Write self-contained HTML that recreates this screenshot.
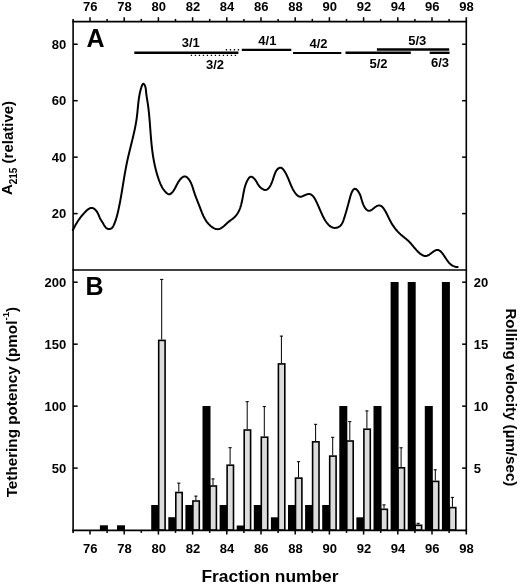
<!DOCTYPE html>
<html><head><meta charset="utf-8"><title>Fraction chart</title>
<style>
html,body{margin:0;padding:0;background:#fff;}
body{width:520px;height:584px;overflow:hidden;}
svg{display:block;}
text{font-family:"Liberation Sans", Arial, sans-serif;font-weight:bold;fill:#000;}
</style></head>
<body>
<svg width="520" height="584" viewBox="0 0 520 584">
<rect width="520" height="584" fill="#fff"/>
<path d="M72.87,230.05 L73.31,229.18 L73.75,228.33 L74.19,227.49 L74.63,226.67 L75.07,225.86 L75.51,225.07 L75.96,224.28 L76.41,223.51 L76.87,222.75 L77.34,222.00 L77.81,221.25 L78.30,220.52 L78.79,219.79 L79.30,219.06 L79.81,218.34 L80.34,217.63 L80.89,216.92 L81.45,216.21 L82.02,215.50 L82.62,214.80 L83.23,214.09 L83.86,213.38 L84.52,212.67 L85.19,211.96 L85.89,211.25 L86.60,210.56 L87.33,209.91 L88.08,209.32 L88.84,208.81 L89.61,208.39 L90.39,208.09 L91.17,207.92 L91.95,207.90 L92.74,208.06 L93.52,208.38 L94.27,208.84 L94.99,209.41 L95.67,210.07 L96.29,210.80 L96.84,211.56 L97.33,212.36 L97.78,213.18 L98.18,214.02 L98.56,214.87 L98.93,215.72 L99.28,216.56 L99.64,217.40 L100.01,218.21 L100.41,219.00 L100.83,219.76 L101.28,220.50 L101.75,221.24 L102.23,222.00 L102.72,222.78 L103.20,223.61 L103.68,224.47 L104.18,225.32 L104.70,226.15 L105.26,226.93 L105.87,227.63 L106.52,228.22 L107.25,228.67 L108.05,228.97 L108.90,229.09 L109.76,229.05 L110.60,228.84 L111.36,228.45 L112.02,227.91 L112.59,227.22 L113.09,226.43 L113.52,225.58 L113.93,224.70 L114.31,223.82 L114.67,222.94 L115.01,222.06 L115.33,221.18 L115.64,220.30 L115.93,219.42 L116.21,218.54 L116.47,217.67 L116.73,216.79 L116.97,215.91 L117.20,215.03 L117.42,214.15 L117.64,213.27 L117.85,212.39 L118.05,211.51 L118.25,210.63 L118.45,209.75 L118.64,208.86 L118.83,207.98 L119.02,207.09 L119.20,206.20 L119.38,205.32 L119.56,204.43 L119.73,203.54 L119.91,202.65 L120.08,201.75 L120.24,200.86 L120.41,199.97 L120.57,199.08 L120.73,198.18 L120.89,197.29 L121.05,196.39 L121.20,195.49 L121.36,194.60 L121.51,193.70 L121.66,192.80 L121.81,191.90 L121.96,191.01 L122.11,190.11 L122.26,189.21 L122.41,188.31 L122.56,187.41 L122.70,186.51 L122.85,185.61 L123.00,184.71 L123.14,183.81 L123.29,182.91 L123.44,182.01 L123.58,181.11 L123.73,180.21 L123.88,179.31 L124.03,178.41 L124.18,177.51 L124.33,176.61 L124.48,175.71 L124.64,174.81 L124.79,173.91 L124.95,173.01 L125.11,172.11 L125.27,171.22 L125.43,170.32 L125.59,169.42 L125.76,168.52 L125.93,167.63 L126.10,166.73 L126.27,165.84 L126.45,164.94 L126.63,164.05 L126.81,163.16 L126.99,162.27 L127.18,161.38 L127.37,160.48 L127.57,159.60 L127.77,158.71 L127.97,157.82 L128.17,156.93 L128.38,156.04 L128.58,155.16 L128.79,154.27 L129.00,153.39 L129.22,152.50 L129.43,151.62 L129.65,150.73 L129.87,149.85 L130.08,148.97 L130.30,148.08 L130.52,147.20 L130.74,146.32 L130.96,145.43 L131.18,144.55 L131.40,143.67 L131.62,142.78 L131.83,141.90 L132.05,141.02 L132.27,140.13 L132.48,139.25 L132.70,138.37 L132.91,137.48 L133.12,136.60 L133.32,135.71 L133.53,134.83 L133.73,133.94 L133.93,133.05 L134.13,132.17 L134.32,131.28 L134.52,130.39 L134.70,129.50 L134.89,128.61 L135.07,127.72 L135.24,126.83 L135.42,125.93 L135.58,125.04 L135.75,124.14 L135.91,123.25 L136.06,122.35 L136.21,121.45 L136.35,120.55 L136.49,119.65 L136.62,118.75 L136.74,117.85 L136.86,116.94 L136.98,116.04 L137.08,115.13 L137.19,114.22 L137.29,113.31 L137.38,112.40 L137.47,111.49 L137.56,110.58 L137.65,109.67 L137.74,108.76 L137.83,107.85 L137.92,106.93 L138.01,106.02 L138.10,105.11 L138.19,104.21 L138.29,103.30 L138.39,102.39 L138.50,101.49 L138.61,100.58 L138.73,99.68 L138.85,98.78 L138.98,97.88 L139.12,96.98 L139.27,96.09 L139.43,95.20 L139.60,94.31 L139.77,93.42 L139.97,92.53 L140.17,91.63 L140.40,90.73 L140.64,89.82 L140.89,88.90 L141.17,87.97 L141.47,87.02 L141.80,86.06 L142.15,85.15 L142.53,84.39 L142.95,83.89 L143.41,83.75 L143.90,84.01 L144.39,84.60 L144.85,85.39 L145.21,86.28 L145.49,87.19 L145.68,88.13 L145.82,89.09 L145.92,90.04 L146.00,91.00 L146.08,91.96 L146.18,92.90 L146.28,93.83 L146.40,94.75 L146.53,95.66 L146.66,96.57 L146.80,97.47 L146.95,98.37 L147.09,99.26 L147.24,100.15 L147.39,101.04 L147.53,101.93 L147.67,102.82 L147.80,103.71 L147.93,104.61 L148.05,105.50 L148.18,106.40 L148.29,107.30 L148.40,108.20 L148.51,109.10 L148.62,110.00 L148.72,110.90 L148.82,111.80 L148.91,112.71 L149.01,113.61 L149.10,114.52 L149.18,115.42 L149.27,116.33 L149.35,117.24 L149.43,118.15 L149.51,119.06 L149.58,119.97 L149.66,120.88 L149.73,121.79 L149.81,122.70 L149.88,123.61 L149.95,124.53 L150.02,125.44 L150.09,126.35 L150.15,127.26 L150.22,128.17 L150.29,129.09 L150.36,130.00 L150.43,130.91 L150.49,131.83 L150.56,132.74 L150.63,133.65 L150.70,134.56 L150.78,135.47 L150.85,136.38 L150.92,137.29 L151.00,138.21 L151.08,139.12 L151.16,140.02 L151.24,140.93 L151.32,141.84 L151.41,142.75 L151.50,143.66 L151.59,144.56 L151.68,145.47 L151.78,146.37 L151.88,147.27 L151.99,148.18 L152.09,149.08 L152.20,149.98 L152.32,150.88 L152.44,151.78 L152.56,152.68 L152.68,153.57 L152.81,154.47 L152.95,155.37 L153.09,156.26 L153.23,157.16 L153.38,158.05 L153.53,158.94 L153.69,159.83 L153.85,160.73 L154.02,161.62 L154.19,162.51 L154.37,163.39 L154.55,164.28 L154.74,165.17 L154.94,166.06 L155.14,166.94 L155.35,167.83 L155.56,168.71 L155.78,169.59 L156.01,170.48 L156.24,171.36 L156.48,172.24 L156.73,173.12 L156.98,174.00 L157.24,174.88 L157.51,175.76 L157.79,176.63 L158.07,177.51 L158.36,178.39 L158.66,179.26 L158.96,180.14 L159.28,181.01 L159.61,181.87 L159.95,182.74 L160.30,183.59 L160.68,184.43 L161.06,185.27 L161.47,186.09 L161.90,186.90 L162.35,187.69 L162.83,188.47 L163.33,189.23 L163.86,189.97 L164.42,190.68 L165.01,191.38 L165.63,192.04 L166.28,192.69 L166.97,193.29 L167.69,193.81 L168.43,194.17 L169.19,194.30 L169.96,194.15 L170.73,193.75 L171.49,193.14 L172.21,192.40 L172.89,191.58 L173.52,190.73 L174.07,189.90 L174.56,189.10 L175.01,188.32 L175.41,187.56 L175.80,186.80 L176.18,186.04 L176.56,185.27 L176.95,184.49 L177.38,183.69 L177.84,182.87 L178.35,182.02 L178.91,181.17 L179.51,180.32 L180.14,179.51 L180.79,178.76 L181.47,178.07 L182.16,177.48 L182.87,177.00 L183.58,176.65 L184.28,176.46 L184.99,176.44 L185.68,176.59 L186.35,176.90 L187.01,177.35 L187.65,177.92 L188.27,178.59 L188.86,179.35 L189.43,180.18 L189.96,181.06 L190.46,181.97 L190.92,182.90 L191.34,183.82 L191.72,184.73 L192.07,185.62 L192.38,186.49 L192.66,187.34 L192.93,188.19 L193.19,189.02 L193.43,189.85 L193.68,190.68 L193.94,191.51 L194.21,192.34 L194.49,193.18 L194.78,194.02 L195.08,194.86 L195.38,195.70 L195.69,196.55 L196.01,197.39 L196.34,198.24 L196.67,199.10 L197.00,199.95 L197.34,200.80 L197.67,201.66 L198.01,202.52 L198.35,203.38 L198.69,204.24 L199.03,205.10 L199.37,205.96 L199.70,206.82 L200.03,207.68 L200.36,208.55 L200.69,209.41 L201.02,210.27 L201.35,211.12 L201.69,211.97 L202.03,212.82 L202.39,213.66 L202.75,214.50 L203.12,215.32 L203.50,216.14 L203.90,216.95 L204.32,217.76 L204.75,218.55 L205.20,219.32 L205.67,220.09 L206.16,220.85 L206.68,221.59 L207.22,222.31 L207.78,223.02 L208.38,223.71 L209.01,224.39 L209.66,225.05 L210.35,225.68 L211.07,226.30 L211.83,226.88 L212.60,227.43 L213.40,227.91 L214.22,228.34 L215.05,228.68 L215.89,228.95 L216.74,229.12 L217.59,229.18 L218.44,229.12 L219.29,228.94 L220.12,228.64 L220.95,228.23 L221.76,227.74 L222.55,227.18 L223.32,226.57 L224.07,225.94 L224.79,225.29 L225.48,224.65 L226.15,224.03 L226.80,223.42 L227.45,222.83 L228.11,222.26 L228.79,221.70 L229.50,221.14 L230.22,220.59 L230.96,220.05 L231.69,219.50 L232.42,218.94 L233.13,218.37 L233.83,217.78 L234.50,217.17 L235.13,216.54 L235.73,215.88 L236.29,215.20 L236.82,214.49 L237.32,213.76 L237.79,213.02 L238.23,212.25 L238.65,211.46 L239.03,210.66 L239.40,209.84 L239.74,209.01 L240.06,208.16 L240.36,207.30 L240.64,206.43 L240.91,205.55 L241.16,204.66 L241.39,203.76 L241.61,202.86 L241.82,201.95 L242.02,201.03 L242.21,200.11 L242.39,199.19 L242.57,198.27 L242.74,197.35 L242.91,196.43 L243.07,195.51 L243.24,194.60 L243.40,193.69 L243.57,192.79 L243.75,191.89 L243.92,191.00 L244.11,190.12 L244.30,189.25 L244.51,188.38 L244.72,187.52 L244.96,186.67 L245.21,185.81 L245.49,184.96 L245.79,184.11 L246.11,183.26 L246.47,182.42 L246.85,181.57 L247.27,180.71 L247.72,179.86 L248.21,179.03 L248.74,178.26 L249.30,177.60 L249.91,177.10 L250.55,176.79 L251.24,176.72 L251.97,176.90 L252.71,177.32 L253.47,177.91 L254.20,178.63 L254.91,179.45 L255.58,180.31 L256.17,181.18 L256.69,182.01 L257.12,182.76 L257.50,183.46 L257.87,184.14 L258.26,184.80 L258.74,185.49 L259.32,186.21 L260.01,186.96 L260.78,187.69 L261.61,188.38 L262.48,188.98 L263.36,189.47 L264.22,189.80 L265.05,189.94 L265.83,189.90 L266.57,189.69 L267.27,189.33 L267.92,188.85 L268.54,188.25 L269.11,187.57 L269.64,186.83 L270.14,186.03 L270.59,185.20 L271.01,184.37 L271.40,183.54 L271.75,182.71 L272.08,181.87 L272.39,181.04 L272.68,180.20 L272.96,179.36 L273.24,178.50 L273.52,177.64 L273.80,176.77 L274.09,175.88 L274.40,174.98 L274.73,174.06 L275.08,173.15 L275.47,172.25 L275.90,171.38 L276.37,170.56 L276.91,169.81 L277.50,169.13 L278.16,168.56 L278.89,168.09 L279.68,167.77 L280.47,167.66 L281.22,167.80 L281.92,168.15 L282.58,168.68 L283.19,169.34 L283.77,170.10 L284.32,170.91 L284.83,171.74 L285.32,172.56 L285.78,173.39 L286.22,174.22 L286.64,175.05 L287.05,175.88 L287.43,176.71 L287.80,177.54 L288.17,178.37 L288.52,179.21 L288.86,180.04 L289.20,180.87 L289.54,181.70 L289.87,182.53 L290.21,183.36 L290.55,184.19 L290.90,185.02 L291.25,185.84 L291.62,186.67 L292.00,187.49 L292.40,188.30 L292.81,189.11 L293.25,189.92 L293.72,190.71 L294.21,191.50 L294.73,192.28 L295.29,193.04 L295.89,193.79 L296.53,194.52 L297.20,195.20 L297.90,195.79 L298.64,196.27 L299.40,196.61 L300.18,196.77 L300.99,196.73 L301.82,196.50 L302.67,196.16 L303.54,195.75 L304.45,195.34 L305.36,194.94 L306.29,194.59 L307.20,194.30 L308.10,194.11 L308.96,194.04 L309.78,194.10 L310.55,194.32 L311.28,194.66 L311.96,195.13 L312.60,195.69 L313.20,196.35 L313.77,197.08 L314.31,197.87 L314.81,198.71 L315.29,199.57 L315.75,200.45 L316.19,201.34 L316.61,202.20 L317.01,203.06 L317.40,203.90 L317.78,204.73 L318.15,205.55 L318.51,206.36 L318.86,207.17 L319.21,207.98 L319.55,208.78 L319.90,209.59 L320.25,210.40 L320.59,211.21 L320.95,212.03 L321.31,212.86 L321.67,213.68 L322.05,214.51 L322.44,215.34 L322.83,216.16 L323.24,216.98 L323.67,217.80 L324.11,218.61 L324.57,219.41 L325.04,220.20 L325.54,220.98 L326.06,221.75 L326.60,222.50 L327.17,223.23 L327.77,223.95 L328.39,224.64 L329.04,225.30 L329.72,225.90 L330.45,226.45 L331.21,226.93 L332.01,227.32 L332.85,227.61 L333.74,227.80 L334.67,227.88 L335.62,227.85 L336.56,227.71 L337.47,227.48 L338.33,227.15 L339.12,226.73 L339.83,226.23 L340.47,225.65 L341.05,225.00 L341.56,224.30 L342.03,223.54 L342.45,222.74 L342.83,221.91 L343.18,221.04 L343.50,220.16 L343.81,219.27 L344.10,218.37 L344.39,217.48 L344.68,216.58 L344.96,215.70 L345.23,214.81 L345.50,213.92 L345.76,213.04 L346.02,212.16 L346.28,211.29 L346.53,210.41 L346.78,209.54 L347.03,208.67 L347.27,207.80 L347.51,206.93 L347.75,206.06 L347.98,205.20 L348.22,204.33 L348.45,203.47 L348.68,202.60 L348.91,201.74 L349.14,200.88 L349.37,200.02 L349.59,199.16 L349.82,198.30 L350.05,197.44 L350.29,196.57 L350.55,195.69 L350.83,194.80 L351.16,193.89 L351.53,192.95 L351.96,191.99 L352.44,191.03 L352.98,190.15 L353.56,189.43 L354.18,188.97 L354.83,188.80 L355.49,188.91 L356.16,189.25 L356.82,189.78 L357.47,190.46 L358.08,191.24 L358.64,192.09 L359.15,192.95 L359.60,193.81 L359.98,194.64 L360.32,195.46 L360.61,196.26 L360.87,197.06 L361.11,197.86 L361.34,198.67 L361.57,199.49 L361.81,200.32 L362.06,201.17 L362.34,202.05 L362.65,202.96 L363.01,203.90 L363.42,204.85 L363.87,205.80 L364.35,206.72 L364.88,207.60 L365.44,208.42 L366.03,209.15 L366.66,209.77 L367.32,210.27 L368.00,210.63 L368.71,210.82 L369.44,210.82 L370.19,210.63 L370.95,210.27 L371.74,209.79 L372.53,209.21 L373.32,208.58 L374.12,207.93 L374.92,207.30 L375.72,206.74 L376.50,206.26 L377.28,205.89 L378.05,205.63 L378.80,205.50 L379.54,205.49 L380.26,205.63 L380.96,205.91 L381.65,206.35 L382.31,206.94 L382.95,207.64 L383.56,208.43 L384.14,209.28 L384.70,210.15 L385.22,211.01 L385.71,211.86 L386.18,212.71 L386.62,213.54 L387.05,214.38 L387.46,215.20 L387.85,216.02 L388.25,216.83 L388.63,217.63 L389.02,218.43 L389.40,219.23 L389.79,220.02 L390.20,220.80 L390.61,221.58 L391.04,222.36 L391.48,223.13 L391.94,223.90 L392.42,224.66 L392.91,225.41 L393.42,226.16 L393.94,226.90 L394.47,227.63 L395.02,228.36 L395.59,229.07 L396.16,229.78 L396.76,230.47 L397.36,231.16 L397.98,231.83 L398.62,232.49 L399.27,233.14 L399.93,233.77 L400.60,234.39 L401.29,235.00 L401.99,235.60 L402.70,236.18 L403.41,236.76 L404.12,237.34 L404.83,237.91 L405.54,238.49 L406.24,239.07 L406.93,239.65 L407.61,240.25 L408.28,240.86 L408.92,241.48 L409.55,242.12 L410.16,242.77 L410.75,243.44 L411.34,244.11 L411.93,244.79 L412.50,245.48 L413.08,246.17 L413.66,246.86 L414.24,247.56 L414.83,248.26 L415.43,248.95 L416.04,249.64 L416.66,250.33 L417.31,251.01 L417.97,251.68 L418.66,252.34 L419.37,252.99 L420.11,253.61 L420.86,254.19 L421.64,254.72 L422.43,255.18 L423.23,255.55 L424.05,255.82 L424.87,255.98 L425.70,256.01 L426.53,255.90 L427.36,255.64 L428.18,255.27 L429.01,254.80 L429.83,254.26 L430.65,253.66 L431.47,253.05 L432.28,252.42 L433.08,251.82 L433.87,251.26 L434.66,250.77 L435.43,250.36 L436.19,250.06 L436.95,249.90 L437.68,249.90 L438.41,250.06 L439.12,250.36 L439.81,250.79 L440.49,251.33 L441.14,251.95 L441.78,252.66 L442.40,253.41 L443.00,254.21 L443.58,255.02 L444.14,255.83 L444.68,256.64 L445.20,257.44 L445.72,258.23 L446.23,259.01 L446.74,259.77 L447.25,260.51 L447.78,261.23 L448.32,261.93 L448.88,262.59 L449.46,263.22 L450.07,263.82 L450.72,264.38 L451.40,264.89 L452.12,265.37 L452.89,265.79 L453.71,266.17 L454.59,266.49 L455.53,266.75 L456.53,266.96 L457.61,267.10" fill="none" stroke="#000" stroke-width="2" stroke-linejoin="round" stroke-linecap="round"/>
<line x1="134.3" y1="52.8" x2="238.4" y2="52.8" stroke="#000" stroke-width="2.5"/>
<line x1="190.8" y1="55.4" x2="236.3" y2="55.4" stroke="#000" stroke-width="1.4" stroke-dasharray="1.3,2.7"/>
<line x1="225.8" y1="49.8" x2="239.2" y2="49.8" stroke="#000" stroke-width="1.4" stroke-dasharray="1.3,2.7"/>
<line x1="241.8" y1="49.9" x2="291.3" y2="49.9" stroke="#000" stroke-width="2.2"/>
<line x1="293.0" y1="53.0" x2="341.3" y2="53.0" stroke="#000" stroke-width="2.2"/>
<line x1="345.5" y1="52.8" x2="410.8" y2="52.8" stroke="#000" stroke-width="2.4"/>
<line x1="376.9" y1="49.5" x2="449.2" y2="49.5" stroke="#000" stroke-width="2.4"/>
<line x1="429.7" y1="52.8" x2="449.6" y2="52.8" stroke="#000" stroke-width="2.4"/>
<text x="190.8" y="46.8" font-size="13" text-anchor="middle">3/1</text>
<text x="215.0" y="68.5" font-size="13" text-anchor="middle">3/2</text>
<text x="267.4" y="44.8" font-size="13" text-anchor="middle">4/1</text>
<text x="318.5" y="47.8" font-size="13" text-anchor="middle">4/2</text>
<text x="378.5" y="67.8" font-size="13" text-anchor="middle">5/2</text>
<text x="417.3" y="45.3" font-size="13" text-anchor="middle">5/3</text>
<text x="440.0" y="67.3" font-size="13" text-anchor="middle">6/3</text>
<rect x="99.90" y="525.3" width="8.00" height="4.8" fill="#000"/>
<rect x="117.00" y="525.3" width="8.00" height="4.8" fill="#000"/>
<rect x="151.20" y="505.0" width="8.00" height="25.1" fill="#000"/>
<rect x="168.30" y="517.2" width="8.00" height="12.9" fill="#000"/>
<rect x="185.40" y="505.0" width="8.00" height="25.1" fill="#000"/>
<rect x="202.50" y="406.0" width="8.00" height="124.1" fill="#000"/>
<rect x="219.60" y="505.0" width="8.00" height="25.1" fill="#000"/>
<rect x="236.70" y="525.5" width="8.00" height="4.6" fill="#000"/>
<rect x="253.80" y="505.0" width="8.00" height="25.1" fill="#000"/>
<rect x="270.90" y="517.3" width="8.00" height="12.8" fill="#000"/>
<rect x="288.00" y="505.0" width="8.00" height="25.1" fill="#000"/>
<rect x="305.10" y="505.0" width="8.00" height="25.1" fill="#000"/>
<rect x="322.20" y="505.0" width="8.00" height="25.1" fill="#000"/>
<rect x="339.30" y="406.0" width="8.00" height="124.1" fill="#000"/>
<rect x="356.40" y="517.3" width="8.00" height="12.8" fill="#000"/>
<rect x="373.50" y="406.0" width="8.00" height="124.1" fill="#000"/>
<rect x="390.60" y="282.0" width="8.00" height="248.1" fill="#000"/>
<rect x="407.70" y="282.0" width="8.00" height="248.1" fill="#000"/>
<rect x="424.80" y="406.0" width="8.00" height="124.1" fill="#000"/>
<rect x="441.90" y="282.0" width="8.00" height="248.1" fill="#000"/>
<line x1="161.7" y1="339.6" x2="161.7" y2="279.2" stroke="#000" stroke-width="1"/>
<line x1="160.1" y1="279.4" x2="163.3" y2="279.4" stroke="#000" stroke-width="1"/>
<rect x="158.7" y="340.4" width="6.4" height="189.7" fill="#dcdcdc" stroke="#000" stroke-width="1.6"/>
<line x1="178.8" y1="491.7" x2="178.8" y2="482.9" stroke="#000" stroke-width="1"/>
<line x1="177.2" y1="483.1" x2="180.4" y2="483.1" stroke="#000" stroke-width="1"/>
<rect x="175.8" y="492.5" width="6.4" height="37.6" fill="#dcdcdc" stroke="#000" stroke-width="1.6"/>
<line x1="195.9" y1="500.2" x2="195.9" y2="495.9" stroke="#000" stroke-width="1"/>
<line x1="194.3" y1="496.1" x2="197.5" y2="496.1" stroke="#000" stroke-width="1"/>
<rect x="192.9" y="501.0" width="6.4" height="29.1" fill="#dcdcdc" stroke="#000" stroke-width="1.6"/>
<line x1="213.0" y1="485.2" x2="213.0" y2="478.7" stroke="#000" stroke-width="1"/>
<line x1="211.4" y1="478.9" x2="214.6" y2="478.9" stroke="#000" stroke-width="1"/>
<rect x="210.0" y="486.0" width="6.4" height="44.1" fill="#dcdcdc" stroke="#000" stroke-width="1.6"/>
<line x1="230.1" y1="464.4" x2="230.1" y2="447.5" stroke="#000" stroke-width="1"/>
<line x1="228.5" y1="447.7" x2="231.7" y2="447.7" stroke="#000" stroke-width="1"/>
<rect x="227.1" y="465.2" width="6.4" height="64.9" fill="#dcdcdc" stroke="#000" stroke-width="1.6"/>
<line x1="247.2" y1="429.2" x2="247.2" y2="401.5" stroke="#000" stroke-width="1"/>
<line x1="245.6" y1="401.7" x2="248.8" y2="401.7" stroke="#000" stroke-width="1"/>
<rect x="244.2" y="430.0" width="6.4" height="100.1" fill="#dcdcdc" stroke="#000" stroke-width="1.6"/>
<line x1="264.3" y1="436.4" x2="264.3" y2="406.4" stroke="#000" stroke-width="1"/>
<line x1="262.7" y1="406.6" x2="265.9" y2="406.6" stroke="#000" stroke-width="1"/>
<rect x="261.3" y="437.2" width="6.4" height="92.9" fill="#dcdcdc" stroke="#000" stroke-width="1.6"/>
<line x1="281.4" y1="363.1" x2="281.4" y2="335.9" stroke="#000" stroke-width="1"/>
<line x1="279.8" y1="336.1" x2="283.0" y2="336.1" stroke="#000" stroke-width="1"/>
<rect x="278.4" y="363.9" width="6.4" height="166.2" fill="#dcdcdc" stroke="#000" stroke-width="1.6"/>
<line x1="298.5" y1="477.3" x2="298.5" y2="461.5" stroke="#000" stroke-width="1"/>
<line x1="296.9" y1="461.7" x2="300.1" y2="461.7" stroke="#000" stroke-width="1"/>
<rect x="295.5" y="478.1" width="6.4" height="52.0" fill="#dcdcdc" stroke="#000" stroke-width="1.6"/>
<line x1="315.6" y1="441.0" x2="315.6" y2="424.1" stroke="#000" stroke-width="1"/>
<line x1="314.0" y1="424.3" x2="317.2" y2="424.3" stroke="#000" stroke-width="1"/>
<rect x="312.6" y="441.8" width="6.4" height="88.3" fill="#dcdcdc" stroke="#000" stroke-width="1.6"/>
<line x1="332.7" y1="455.3" x2="332.7" y2="437.1" stroke="#000" stroke-width="1"/>
<line x1="331.1" y1="437.3" x2="334.3" y2="437.3" stroke="#000" stroke-width="1"/>
<rect x="329.7" y="456.1" width="6.4" height="74.0" fill="#dcdcdc" stroke="#000" stroke-width="1.6"/>
<line x1="349.8" y1="440.2" x2="349.8" y2="421.4" stroke="#000" stroke-width="1"/>
<line x1="348.2" y1="421.6" x2="351.4" y2="421.6" stroke="#000" stroke-width="1"/>
<rect x="346.8" y="441.0" width="6.4" height="89.1" fill="#dcdcdc" stroke="#000" stroke-width="1.6"/>
<line x1="366.9" y1="428.4" x2="366.9" y2="410.7" stroke="#000" stroke-width="1"/>
<line x1="365.3" y1="410.9" x2="368.5" y2="410.9" stroke="#000" stroke-width="1"/>
<rect x="363.9" y="429.2" width="6.4" height="100.9" fill="#dcdcdc" stroke="#000" stroke-width="1.6"/>
<line x1="384.0" y1="508.5" x2="384.0" y2="504.7" stroke="#000" stroke-width="1"/>
<line x1="382.4" y1="504.9" x2="385.6" y2="504.9" stroke="#000" stroke-width="1"/>
<rect x="381.0" y="509.3" width="6.4" height="20.8" fill="#dcdcdc" stroke="#000" stroke-width="1.6"/>
<line x1="401.1" y1="467.0" x2="401.1" y2="447.6" stroke="#000" stroke-width="1"/>
<line x1="399.5" y1="447.8" x2="402.7" y2="447.8" stroke="#000" stroke-width="1"/>
<rect x="398.1" y="467.8" width="6.4" height="62.3" fill="#dcdcdc" stroke="#000" stroke-width="1.6"/>
<line x1="418.2" y1="524.5" x2="418.2" y2="523.1" stroke="#000" stroke-width="1"/>
<line x1="416.6" y1="523.3" x2="419.8" y2="523.3" stroke="#000" stroke-width="1"/>
<rect x="415.2" y="525.3" width="6.4" height="4.8" fill="#dcdcdc" stroke="#000" stroke-width="1.6"/>
<line x1="435.3" y1="480.6" x2="435.3" y2="469.6" stroke="#000" stroke-width="1"/>
<line x1="433.7" y1="469.8" x2="436.9" y2="469.8" stroke="#000" stroke-width="1"/>
<rect x="432.3" y="481.4" width="6.4" height="48.7" fill="#dcdcdc" stroke="#000" stroke-width="1.6"/>
<line x1="452.4" y1="506.8" x2="452.4" y2="497.2" stroke="#000" stroke-width="1"/>
<line x1="450.8" y1="497.4" x2="454.0" y2="497.4" stroke="#000" stroke-width="1"/>
<rect x="449.4" y="507.6" width="6.4" height="22.5" fill="#dcdcdc" stroke="#000" stroke-width="1.6"/>
<line x1="73.10" y1="18.90" x2="73.10" y2="532.90" stroke="#000" stroke-width="1.60"/>
<line x1="466.30" y1="17.20" x2="466.30" y2="534.60" stroke="#000" stroke-width="1.60"/>
<line x1="72.30" y1="21.60" x2="467.10" y2="21.60" stroke="#000" stroke-width="1.60"/>
<line x1="72.30" y1="270.05" x2="467.10" y2="270.05" stroke="#000" stroke-width="1.60"/>
<line x1="72.30" y1="530.30" x2="467.10" y2="530.30" stroke="#000" stroke-width="1.80"/>
<line x1="90.00" y1="21.60" x2="90.00" y2="17.20" stroke="#000" stroke-width="1.50"/>
<line x1="90.00" y1="530.10" x2="90.00" y2="534.60" stroke="#000" stroke-width="1.50"/>
<line x1="107.10" y1="21.60" x2="107.10" y2="18.90" stroke="#000" stroke-width="1.50"/>
<line x1="107.10" y1="530.10" x2="107.10" y2="532.90" stroke="#000" stroke-width="1.50"/>
<line x1="124.20" y1="21.60" x2="124.20" y2="17.20" stroke="#000" stroke-width="1.50"/>
<line x1="124.20" y1="530.10" x2="124.20" y2="534.60" stroke="#000" stroke-width="1.50"/>
<line x1="141.30" y1="21.60" x2="141.30" y2="18.90" stroke="#000" stroke-width="1.50"/>
<line x1="141.30" y1="530.10" x2="141.30" y2="532.90" stroke="#000" stroke-width="1.50"/>
<line x1="158.40" y1="21.60" x2="158.40" y2="17.20" stroke="#000" stroke-width="1.50"/>
<line x1="158.40" y1="530.10" x2="158.40" y2="534.60" stroke="#000" stroke-width="1.50"/>
<line x1="175.50" y1="21.60" x2="175.50" y2="18.90" stroke="#000" stroke-width="1.50"/>
<line x1="175.50" y1="530.10" x2="175.50" y2="532.90" stroke="#000" stroke-width="1.50"/>
<line x1="192.60" y1="21.60" x2="192.60" y2="17.20" stroke="#000" stroke-width="1.50"/>
<line x1="192.60" y1="530.10" x2="192.60" y2="534.60" stroke="#000" stroke-width="1.50"/>
<line x1="209.70" y1="21.60" x2="209.70" y2="18.90" stroke="#000" stroke-width="1.50"/>
<line x1="209.70" y1="530.10" x2="209.70" y2="532.90" stroke="#000" stroke-width="1.50"/>
<line x1="226.80" y1="21.60" x2="226.80" y2="17.20" stroke="#000" stroke-width="1.50"/>
<line x1="226.80" y1="530.10" x2="226.80" y2="534.60" stroke="#000" stroke-width="1.50"/>
<line x1="243.90" y1="21.60" x2="243.90" y2="18.90" stroke="#000" stroke-width="1.50"/>
<line x1="243.90" y1="530.10" x2="243.90" y2="532.90" stroke="#000" stroke-width="1.50"/>
<line x1="261.00" y1="21.60" x2="261.00" y2="17.20" stroke="#000" stroke-width="1.50"/>
<line x1="261.00" y1="530.10" x2="261.00" y2="534.60" stroke="#000" stroke-width="1.50"/>
<line x1="278.10" y1="21.60" x2="278.10" y2="18.90" stroke="#000" stroke-width="1.50"/>
<line x1="278.10" y1="530.10" x2="278.10" y2="532.90" stroke="#000" stroke-width="1.50"/>
<line x1="295.20" y1="21.60" x2="295.20" y2="17.20" stroke="#000" stroke-width="1.50"/>
<line x1="295.20" y1="530.10" x2="295.20" y2="534.60" stroke="#000" stroke-width="1.50"/>
<line x1="312.30" y1="21.60" x2="312.30" y2="18.90" stroke="#000" stroke-width="1.50"/>
<line x1="312.30" y1="530.10" x2="312.30" y2="532.90" stroke="#000" stroke-width="1.50"/>
<line x1="329.40" y1="21.60" x2="329.40" y2="17.20" stroke="#000" stroke-width="1.50"/>
<line x1="329.40" y1="530.10" x2="329.40" y2="534.60" stroke="#000" stroke-width="1.50"/>
<line x1="346.50" y1="21.60" x2="346.50" y2="18.90" stroke="#000" stroke-width="1.50"/>
<line x1="346.50" y1="530.10" x2="346.50" y2="532.90" stroke="#000" stroke-width="1.50"/>
<line x1="363.60" y1="21.60" x2="363.60" y2="17.20" stroke="#000" stroke-width="1.50"/>
<line x1="363.60" y1="530.10" x2="363.60" y2="534.60" stroke="#000" stroke-width="1.50"/>
<line x1="380.70" y1="21.60" x2="380.70" y2="18.90" stroke="#000" stroke-width="1.50"/>
<line x1="380.70" y1="530.10" x2="380.70" y2="532.90" stroke="#000" stroke-width="1.50"/>
<line x1="397.80" y1="21.60" x2="397.80" y2="17.20" stroke="#000" stroke-width="1.50"/>
<line x1="397.80" y1="530.10" x2="397.80" y2="534.60" stroke="#000" stroke-width="1.50"/>
<line x1="414.90" y1="21.60" x2="414.90" y2="18.90" stroke="#000" stroke-width="1.50"/>
<line x1="414.90" y1="530.10" x2="414.90" y2="532.90" stroke="#000" stroke-width="1.50"/>
<line x1="432.00" y1="21.60" x2="432.00" y2="17.20" stroke="#000" stroke-width="1.50"/>
<line x1="432.00" y1="530.10" x2="432.00" y2="534.60" stroke="#000" stroke-width="1.50"/>
<line x1="449.10" y1="21.60" x2="449.10" y2="18.90" stroke="#000" stroke-width="1.50"/>
<line x1="449.10" y1="530.10" x2="449.10" y2="532.90" stroke="#000" stroke-width="1.50"/>
<text x="90.3" y="11.0" font-size="13" text-anchor="middle">76</text>
<text x="90.3" y="553.3" font-size="13" text-anchor="middle">76</text>
<text x="124.5" y="11.0" font-size="13" text-anchor="middle">78</text>
<text x="124.5" y="553.3" font-size="13" text-anchor="middle">78</text>
<text x="158.7" y="11.0" font-size="13" text-anchor="middle">80</text>
<text x="158.7" y="553.3" font-size="13" text-anchor="middle">80</text>
<text x="192.9" y="11.0" font-size="13" text-anchor="middle">82</text>
<text x="192.9" y="553.3" font-size="13" text-anchor="middle">82</text>
<text x="227.1" y="11.0" font-size="13" text-anchor="middle">84</text>
<text x="227.1" y="553.3" font-size="13" text-anchor="middle">84</text>
<text x="261.3" y="11.0" font-size="13" text-anchor="middle">86</text>
<text x="261.3" y="553.3" font-size="13" text-anchor="middle">86</text>
<text x="295.5" y="11.0" font-size="13" text-anchor="middle">88</text>
<text x="295.5" y="553.3" font-size="13" text-anchor="middle">88</text>
<text x="329.7" y="11.0" font-size="13" text-anchor="middle">90</text>
<text x="329.7" y="553.3" font-size="13" text-anchor="middle">90</text>
<text x="363.9" y="11.0" font-size="13" text-anchor="middle">92</text>
<text x="363.9" y="553.3" font-size="13" text-anchor="middle">92</text>
<text x="398.1" y="11.0" font-size="13" text-anchor="middle">94</text>
<text x="398.1" y="553.3" font-size="13" text-anchor="middle">94</text>
<text x="432.3" y="11.0" font-size="13" text-anchor="middle">96</text>
<text x="432.3" y="553.3" font-size="13" text-anchor="middle">96</text>
<text x="466.5" y="11.0" font-size="13" text-anchor="middle">98</text>
<text x="466.5" y="553.3" font-size="13" text-anchor="middle">98</text>
<line x1="73.10" y1="213.60" x2="77.70" y2="213.60" stroke="#000" stroke-width="1.50"/>
<line x1="466.30" y1="213.60" x2="462.10" y2="213.60" stroke="#000" stroke-width="1.50"/>
<text x="66.3" y="218.2" font-size="13" text-anchor="end">20</text>
<line x1="73.10" y1="157.15" x2="77.70" y2="157.15" stroke="#000" stroke-width="1.50"/>
<line x1="466.30" y1="157.15" x2="462.10" y2="157.15" stroke="#000" stroke-width="1.50"/>
<text x="66.3" y="161.8" font-size="13" text-anchor="end">40</text>
<line x1="73.10" y1="100.70" x2="77.70" y2="100.70" stroke="#000" stroke-width="1.50"/>
<line x1="466.30" y1="100.70" x2="462.10" y2="100.70" stroke="#000" stroke-width="1.50"/>
<text x="66.3" y="105.3" font-size="13" text-anchor="end">60</text>
<line x1="73.10" y1="44.25" x2="77.70" y2="44.25" stroke="#000" stroke-width="1.50"/>
<line x1="466.30" y1="44.25" x2="462.10" y2="44.25" stroke="#000" stroke-width="1.50"/>
<text x="66.3" y="48.9" font-size="13" text-anchor="end">80</text>
<line x1="73.10" y1="468.12" x2="77.70" y2="468.12" stroke="#000" stroke-width="1.50"/>
<text x="66.3" y="472.7" font-size="13" text-anchor="end">50</text>
<line x1="73.10" y1="406.15" x2="77.70" y2="406.15" stroke="#000" stroke-width="1.50"/>
<text x="66.3" y="410.8" font-size="13" text-anchor="end">100</text>
<line x1="73.10" y1="344.18" x2="77.70" y2="344.18" stroke="#000" stroke-width="1.50"/>
<text x="66.3" y="348.8" font-size="13" text-anchor="end">150</text>
<line x1="73.10" y1="282.20" x2="77.70" y2="282.20" stroke="#000" stroke-width="1.50"/>
<text x="66.3" y="286.8" font-size="13" text-anchor="end">200</text>
<line x1="466.30" y1="468.12" x2="462.10" y2="468.12" stroke="#000" stroke-width="1.50"/>
<text x="473.8" y="472.7" font-size="13" text-anchor="start">5</text>
<line x1="466.30" y1="406.15" x2="462.10" y2="406.15" stroke="#000" stroke-width="1.50"/>
<text x="473.8" y="410.8" font-size="13" text-anchor="start">10</text>
<line x1="466.30" y1="344.18" x2="462.10" y2="344.18" stroke="#000" stroke-width="1.50"/>
<text x="473.8" y="348.8" font-size="13" text-anchor="start">15</text>
<line x1="466.30" y1="282.20" x2="462.10" y2="282.20" stroke="#000" stroke-width="1.50"/>
<text x="473.8" y="286.8" font-size="13" text-anchor="start">20</text>
<text x="86.5" y="47.0" font-size="25" text-anchor="start">A</text>
<text x="85.6" y="295.0" font-size="25" text-anchor="start">B</text>
<text x="270.0" y="581.5" font-size="17" text-anchor="middle" textLength="137" lengthAdjust="spacingAndGlyphs">Fraction number</text>
<text transform="translate(17.0,402.1) rotate(-90)" font-size="15" text-anchor="middle" textLength="190.5" lengthAdjust="spacingAndGlyphs">Tethering potency (pmol<tspan font-size="9.6" dy="-7.8">-1</tspan><tspan dy="7.8">)</tspan></text>
<text transform="translate(13.2,148) rotate(-90)" font-size="15" text-anchor="middle"><tspan dy="-1">A</tspan><tspan font-size="10" dy="5">215</tspan><tspan dy="-4"> (relative)</tspan></text>
<text transform="translate(505.7,397.4) rotate(90)" font-size="15" text-anchor="middle" textLength="178" lengthAdjust="spacingAndGlyphs">Rolling velocity (µm/sec)</text>
</svg>
</body></html>
